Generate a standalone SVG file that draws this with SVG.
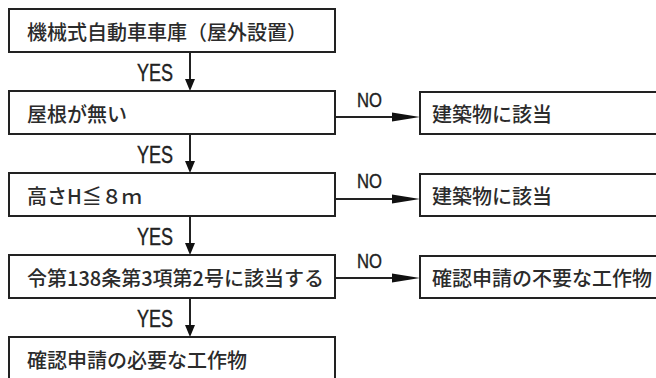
<svg xmlns="http://www.w3.org/2000/svg" width="656" height="378" viewBox="0 0 656 378">
<style>
.box{fill:#fff;stroke:#222;stroke-width:2}
.t{font-family:"Noto Sans CJK JP","Noto Sans",sans-serif;font-size:20px;font-weight:500;fill:#2b2b2b}
.lbl{font-family:"Liberation Sans",Arial,sans-serif;fill:#222;stroke:#222;stroke-width:0.4}
.ln{stroke:#222;stroke-width:2;fill:none}
.ah{fill:#111;stroke:none}
</style>
<rect width="656" height="378" fill="#fff"/>
<g id="connectors">
  <line class="ln" x1="190" y1="52" x2="190" y2="80"/>
  <polygon class="ah" points="190,91 185,79 195,79"/>
  <line class="ln" x1="190" y1="134" x2="190" y2="162"/>
  <polygon class="ah" points="190,173 185,161 195,161"/>
  <line class="ln" x1="190" y1="216" x2="190" y2="244"/>
  <polygon class="ah" points="190,255 185,243 195,243"/>
  <line class="ln" x1="190" y1="298" x2="190" y2="326"/>
  <polygon class="ah" points="190,337 185,325 195,325"/>
  <text class="lbl" x="137" y="81" font-size="24" textLength="36" lengthAdjust="spacingAndGlyphs">YES</text>
  <text class="lbl" x="137" y="163" font-size="24" textLength="36" lengthAdjust="spacingAndGlyphs">YES</text>
  <text class="lbl" x="137" y="245" font-size="24" textLength="36" lengthAdjust="spacingAndGlyphs">YES</text>
  <text class="lbl" x="137" y="327" font-size="24" textLength="36" lengthAdjust="spacingAndGlyphs">YES</text>
  <line class="ln" x1="335" y1="117" x2="396" y2="117"/>
  <polygon class="ah" points="420,117 392,112.5 392,121.5"/>
  <line class="ln" x1="335" y1="199" x2="396" y2="199"/>
  <polygon class="ah" points="420,199 392,194.5 392,203.5"/>
  <line class="ln" x1="335" y1="278" x2="396" y2="278"/>
  <polygon class="ah" points="420,278 392,273.5 392,282.5"/>
  <text class="lbl" x="357" y="107" font-size="21" textLength="25" lengthAdjust="spacingAndGlyphs">NO</text>
  <text class="lbl" x="357" y="188" font-size="21" textLength="25" lengthAdjust="spacingAndGlyphs">NO</text>
  <text class="lbl" x="357" y="268" font-size="21" textLength="25" lengthAdjust="spacingAndGlyphs">NO</text>
</g>
<g id="n1"><rect class="box" x="9" y="9" width="326" height="43"/><text class="t" x="27" y="40">機械式自動車車庫（屋外設置）</text></g>
<g id="n2"><rect class="box" x="9" y="91" width="326" height="43"/><text class="t" x="27" y="122">屋根が無い</text></g>
<g id="n3"><rect class="box" x="9" y="173" width="326" height="43"/><text class="t" x="27" y="204">高さH≦８ｍ</text></g>
<g id="n4"><rect class="box" x="9" y="255" width="326" height="43"/><text class="t" x="27" y="286">令第138条第3項第2号に該当する</text></g>
<g id="n5"><rect class="box" x="9" y="337" width="326" height="60"/><text class="t" x="27" y="368">確認申請の必要な工作物</text></g>
<g id="r1"><rect class="box" x="420" y="92" width="260" height="42"/><text class="t" x="432" y="122">建築物に該当</text></g>
<g id="r2"><rect class="box" x="420" y="174" width="260" height="42"/><text class="t" x="432" y="204">建築物に該当</text></g>
<g id="r3"><rect class="box" x="420" y="256" width="260" height="42"/><text class="t" x="432" y="286">確認申請の不要な工作物</text></g>
</svg>
